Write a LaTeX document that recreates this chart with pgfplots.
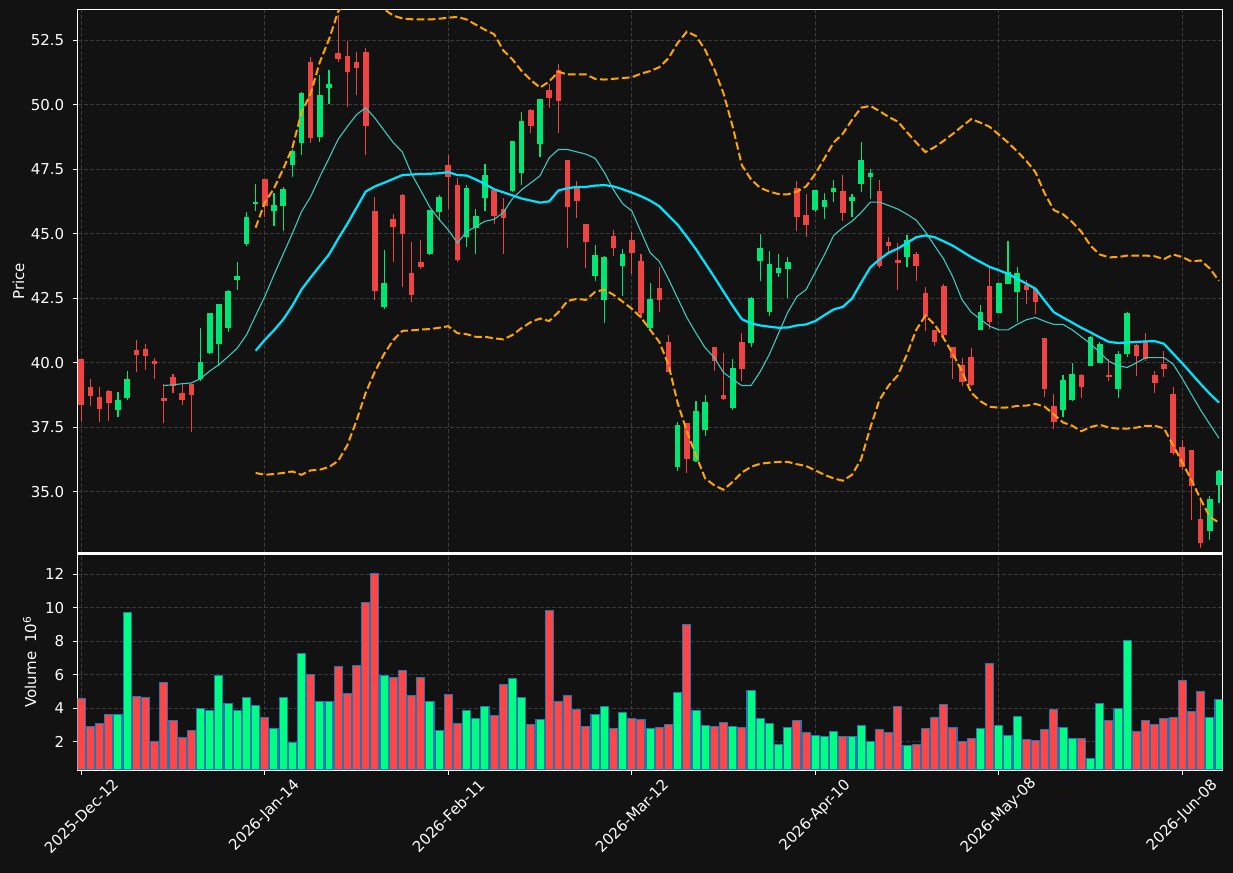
\documentclass[border=0pt]{standalone}
\usepackage{pgfplots}
\pgfplotsset{compat=1.18}
\usepackage{pgfplotstable}
\usepackage{fontspec}
\setmainfont{DejaVu Sans}
\definecolor{bg}{HTML}{121212}
\definecolor{gridc}{HTML}{3A3A3A}
\definecolor{cgreen}{HTML}{00E676}
\definecolor{cred}{HTML}{EF4444}
\definecolor{vgreen}{HTML}{00FF80}
\definecolor{vred}{HTML}{FF4545}
\definecolor{vedge}{HTML}{1F77B4}
\definecolor{smaA}{HTML}{00E5FF}
\definecolor{smaB}{HTML}{40C8C0}
\definecolor{band}{HTML}{FFA500}

\pgfplotstableread{
i o h l c v
4 38.16 38.87 37.88 38.54 3.63
5 38.63 39.69 38.54 39.35 9.73
13 39.35 41.33 39.27 40.01 3.99
14 40.38 41.91 40.35 41.91 3.87
15 40.73 42.29 39.85 42.26 5.96
16 41.34 42.81 41.17 42.77 4.29
17 43.19 43.88 42.83 43.35 3.87
18 44.61 45.82 44.50 45.64 4.65
19 46.16 46.94 45.88 46.22 4.17
21 45.88 46.56 45.31 46.11 2.80
22 46.07 46.79 45.12 46.72 4.65
23 47.67 48.28 47.21 48.20 1.96
24 48.53 50.49 48.05 50.45 7.28
26 48.74 51.13 48.55 50.37 4.41
27 50.66 51.36 50.02 50.81 4.41
33 42.14 44.37 42.09 43.08 5.96
38 44.20 45.91 44.16 45.91 4.41
39 45.83 46.48 45.50 46.41 2.68
42 44.87 46.90 44.49 46.77 3.87
43 45.21 45.94 44.19 45.67 3.39
44 46.39 47.71 45.88 47.27 4.11
47 46.66 48.58 46.63 48.58 5.78
48 47.36 49.71 46.90 49.37 4.65
50 48.49 50.22 47.96 50.22 3.33
56 43.36 44.57 43.15 44.16 3.63
57 42.43 44.12 41.52 44.09 4.11
59 43.76 44.42 42.58 44.20 3.75
62 41.34 43.10 41.30 42.45 2.80
65 35.96 37.68 35.81 37.57 4.95
67 36.19 38.52 36.16 38.11 3.87
68 37.38 38.74 37.17 38.47 2.98
71 38.22 40.12 38.18 39.78 2.92
73 40.76 42.56 40.62 42.49 5.07
74 43.95 45.00 43.15 44.43 3.39
75 41.98 44.32 41.79 43.82 3.10
76 43.48 44.19 43.33 43.66 1.84
77 43.63 44.09 42.50 43.89 2.86
80 45.90 46.68 45.82 46.68 2.38
81 46.05 46.56 45.55 46.30 2.32
82 46.63 47.08 46.21 46.77 2.62
84 46.28 46.52 45.65 46.40 2.32
85 46.93 48.55 46.63 47.85 2.98
86 47.20 47.50 46.34 47.35 2.02
90 44.11 44.93 43.71 44.75 1.78
98 41.27 42.25 41.25 41.95 2.80
100 41.93 43.08 41.91 43.08 2.98
101 43.04 44.73 43.04 43.50 2.38
102 42.74 43.69 41.59 43.47 3.51
107 38.16 39.51 37.88 39.32 2.86
108 38.56 39.99 38.50 39.55 2.20
110 39.88 41.03 39.85 41.00 1.00
111 39.99 40.80 39.99 40.73 4.29
113 38.97 40.46 38.63 40.35 3.99
114 40.33 41.98 40.22 41.91 8.06
123 33.48 34.83 33.14 34.70 3.45
124 35.24 35.85 34.56 35.78 4.53
}\greentab

\pgfplotstableread{
i o h l c v
0 40.15 40.15 37.68 38.36 4.59
1 39.06 39.38 38.33 38.70 2.92
2 38.66 39.04 37.68 38.20 3.10
3 38.89 38.95 37.75 38.43 3.63
6 40.47 40.87 39.62 40.30 4.71
7 40.51 40.73 39.72 40.26 4.65
8 40.05 40.18 39.35 39.95 2.02
9 38.62 39.17 37.64 38.52 5.55
10 39.43 39.54 38.83 39.09 3.27
11 38.81 39.21 38.36 38.55 2.26
12 39.16 39.16 37.32 38.75 2.68
20 47.10 47.10 45.64 46.06 3.45
25 51.65 51.85 48.53 48.72 6.02
28 52.01 53.48 51.65 51.77 6.50
29 51.89 52.46 49.92 51.28 4.89
30 51.65 52.03 50.36 51.43 6.56
31 52.04 52.19 48.03 49.18 10.33
32 45.87 46.40 42.41 42.78 12.06
34 45.56 45.75 43.88 45.25 5.84
35 46.49 46.53 42.94 44.98 6.26
36 43.47 44.69 42.36 42.62 4.77
37 43.89 44.77 43.61 43.70 5.84
40 47.66 48.05 45.95 47.20 4.83
41 46.89 47.14 43.90 43.96 3.10
45 46.68 46.68 45.38 45.68 3.57
46 45.95 46.39 44.19 45.61 5.43
49 49.79 49.82 48.91 49.18 3.04
51 50.56 50.79 49.88 50.26 9.85
52 51.36 51.58 48.91 50.15 4.41
53 47.85 47.85 44.45 46.05 4.77
54 46.77 47.04 45.61 46.28 3.93
55 45.37 45.37 43.65 44.66 2.92
58 44.91 45.14 44.15 44.45 2.80
60 44.75 45.07 43.42 44.26 3.39
61 43.93 44.19 41.71 41.91 3.33
63 42.90 43.69 41.98 42.43 2.86
64 40.80 41.07 39.63 39.63 3.04
66 37.64 37.67 35.72 36.26 9.01
69 40.60 40.60 39.67 40.08 2.92
70 38.74 40.39 38.56 38.59 3.16
72 40.79 41.14 39.27 39.76 2.86
78 46.75 47.02 45.10 45.65 3.27
79 45.72 46.52 44.85 45.34 2.56
83 46.64 47.29 45.48 45.80 2.32
87 46.64 47.06 43.66 43.76 2.74
88 44.66 44.85 44.19 44.53 2.56
89 43.97 44.62 42.81 43.86 4.11
91 44.20 44.28 43.17 43.76 1.84
92 42.70 42.94 41.21 41.75 2.80
93 41.25 41.25 40.66 40.80 3.45
94 42.97 43.06 40.87 41.07 4.23
95 40.60 40.60 39.38 40.16 2.86
96 39.90 40.18 39.11 39.24 2.02
97 40.22 40.56 39.11 39.13 2.20
99 42.97 43.65 41.30 41.59 6.68
103 43.00 43.20 42.29 42.82 2.14
104 42.86 42.94 41.88 42.36 2.08
105 40.95 40.95 38.67 38.97 2.74
106 38.32 38.77 37.41 37.68 3.93
109 39.51 39.55 38.63 39.06 2.20
112 39.51 40.12 39.27 39.44 3.27
115 40.70 40.73 39.48 40.26 2.62
116 40.80 41.14 40.08 40.12 3.27
117 39.51 39.69 38.83 39.21 3.04
118 39.96 40.46 39.44 39.76 3.39
119 38.77 39.06 36.42 36.50 3.45
120 36.71 37.00 35.82 35.96 5.67
121 36.60 36.60 33.89 35.21 3.81
122 33.95 34.77 32.80 33.00 5.01
}\redtab

\pgfplotstableread{
i s
9 39.11
10 39.14
11 39.18
12 39.21
13 39.38
14 39.67
15 39.92
16 40.23
17 40.56
18 41.07
19 41.82
20 42.56
21 43.40
22 44.20
23 45.00
24 45.85
25 46.43
26 47.20
27 47.92
28 48.66
29 49.15
30 49.61
31 49.88
32 49.48
33 49.00
34 48.53
35 48.16
36 47.31
37 46.67
38 46.02
39 45.55
40 45.14
41 44.64
42 45.07
43 45.27
44 45.48
45 45.55
46 45.82
47 46.36
48 46.70
49 46.97
50 47.24
51 47.94
52 48.26
53 48.26
54 48.17
55 48.08
56 47.92
57 47.38
58 46.70
59 46.16
60 45.88
61 45.07
62 44.26
63 43.92
64 43.24
65 42.49
66 41.75
67 41.14
68 40.57
69 40.19
70 39.61
71 39.35
72 39.11
73 39.11
74 39.65
75 40.32
76 41.14
77 41.95
78 42.56
79 42.83
80 43.51
81 44.18
82 44.93
83 45.23
84 45.48
85 45.82
86 46.22
87 46.22
88 46.09
89 45.95
90 45.75
91 45.52
92 45.07
93 44.53
94 44.01
95 43.31
96 42.43
97 41.95
98 41.68
99 41.41
100 41.27
101 41.27
102 41.48
103 41.66
104 41.75
105 41.60
106 41.48
107 41.48
108 41.27
109 41.00
110 40.73
111 40.39
112 40.05
113 39.88
114 39.81
115 39.99
116 40.19
117 40.19
118 40.19
119 39.94
120 39.38
121 38.77
122 38.16
123 37.61
124 37.07
}\smaten

\pgfplotstableread{
i m up lo
19 40.46 45.23 35.72
20 40.88 46.20 35.65
21 41.25 46.75 35.68
22 41.67 47.50 35.72
23 42.20 48.32 35.78
24 42.83 49.70 35.65
25 43.30 50.43 35.82
26 43.75 51.65 35.85
27 44.19 52.53 35.95
28 44.80 53.61 36.19
29 45.38 54.10 36.80
30 46.00 54.40 37.75
31 46.63 54.40 38.83
32 46.83 54.10 39.65
33 46.97 53.70 40.33
34 47.12 53.45 40.87
35 47.27 53.34 41.23
36 47.29 53.31 41.25
37 47.31 53.30 41.28
38 47.32 53.30 41.30
39 47.34 53.33 41.35
40 47.38 53.37 41.41
41 47.27 53.40 41.14
42 47.25 53.30 41.10
43 47.10 53.10 41.00
44 46.92 52.90 41.00
45 46.72 52.73 40.94
46 46.60 52.10 40.90
47 46.48 51.75 41.07
48 46.36 51.30 41.34
49 46.28 50.95 41.57
50 46.20 50.66 41.71
51 46.25 50.90 41.61
52 46.67 51.27 41.95
53 46.76 51.17 42.39
54 46.81 51.17 42.47
55 46.81 51.17 42.43
56 46.86 51.00 42.74
57 46.88 50.97 42.83
58 46.83 51.00 42.63
59 46.72 51.03 42.36
60 46.59 51.06 42.09
61 46.45 51.20 41.75
62 46.28 51.30 41.27
63 46.06 51.45 40.80
64 45.70 51.80 39.92
65 45.34 52.39 38.43
66 44.88 52.83 37.34
67 44.39 52.66 36.39
68 43.85 52.12 35.51
69 43.31 51.37 35.24
70 42.75 50.43 35.07
71 42.20 49.14 35.38
72 41.68 47.65 35.74
73 41.52 47.10 35.96
74 41.44 46.77 36.08
75 41.39 46.63 36.12
76 41.35 46.53 36.15
77 41.36 46.52 36.15
78 41.44 46.63 36.06
79 41.48 46.83 35.99
80 41.61 47.31 35.82
81 41.84 47.92 35.65
82 42.06 48.53 35.51
83 42.16 48.87 35.42
84 42.48 49.41 35.65
85 43.10 49.88 36.26
86 43.69 49.95 37.48
87 44.00 49.75 38.56
88 44.26 49.52 39.11
89 44.42 49.34 39.51
90 44.64 48.93 40.33
91 44.86 48.53 41.27
92 44.93 48.16 41.82
93 44.86 48.35 41.48
94 44.70 48.60 40.94
95 44.53 48.87 40.33
96 44.31 49.16 39.65
97 44.09 49.44 38.83
98 43.90 49.30 38.50
99 43.71 49.14 38.29
100 43.58 48.84 38.25
101 43.44 48.53 38.26
102 43.25 48.19 38.32
103 43.06 47.82 38.33
104 42.86 47.38 38.40
105 42.40 46.56 38.29
106 41.95 45.91 37.99
107 41.75 45.75 37.68
108 41.55 45.45 37.55
109 41.35 45.07 37.34
110 41.17 44.53 37.50
111 40.98 44.19 37.59
112 40.80 44.08 37.48
113 40.76 44.09 37.44
114 40.78 44.15 37.44
115 40.80 44.15 37.48
116 40.82 44.15 37.55
117 40.83 44.12 37.55
118 40.73 44.01 37.45
119 40.35 44.19 36.80
120 39.97 44.09 36.12
121 39.57 43.92 35.45
122 39.17 43.96 34.70
123 38.79 43.65 34.02
124 38.45 43.17 33.79
}\bandtab

\begin{document}
\begin{tikzpicture}[font=\fontsize{15bp}{18bp}\selectfont]
\path[use as bounding box, fill=bg] (0,0) rectangle (1233bp,873bp);
\pgfplotsset{
 every axis/.append style={
  scale only axis, width=1144.6bp,
  xmin=-0.39, xmax=124.36,
  axis background/.style={fill=bg},
  axis line style={white, line width=1.1bp},
  tick style={white, line width=1.1bp},
  major tick length=4.9bp, tick align=outside,
  xtick={0,20,40,60,80,100,120},
  xtick pos=bottom, ytick pos=left,
  xmajorgrids, ymajorgrids,
  major grid style={gridc, line width=0.8bp, dash pattern=on 4bp off 2bp},
  tick label style={white, font=\fontsize{15bp}{18bp}\selectfont},
  yticklabel shift=5bp,
  /pgf/number format/assume math mode=true,
 },
 candle/.style={only marks, mark=*, mark size=0pt, mark options={draw=none, fill=none},
  error bars/.cd, y dir=plus, y explicit, error mark=none},
}
\begin{axis}[at={(77.7bp,320.3bp)}, anchor=south west, height=543bp,
  ymin=32.63, ymax=53.68,
  ytick={35,37.5,40,42.5,45,47.5,50,52.5},
  yticklabel style={/pgf/number format/fixed, /pgf/number format/fixed zerofill, /pgf/number format/precision=1},
  xticklabels={}, xtick style={draw=none},
  ylabel={Price},
  every axis y label/.style={at={(axis description cs:-0.0469,0.5)}, rotate=90, anchor=base, text=white, font=\fontsize{15bp}{18bp}\selectfont},
]
% wicks
\addplot[candle, error bar style={cgreen, line width=1.1bp}]
  table[x=i, y=l, y error plus expr=\thisrow{h}-\thisrow{l}] {\greentab};
\addplot[candle, error bar style={cred, line width=1.1bp}]
  table[x=i, y=l, y error plus expr=\thisrow{h}-\thisrow{l}] {\redtab};
% bodies
\addplot[candle, error bar style={cgreen, line width=5.6bp}]
  table[x=i, y=o, y error plus expr=\thisrow{c}-\thisrow{o}] {\greentab};
\addplot[candle, error bar style={cred, line width=5.6bp}]
  table[x=i, y=c, y error plus expr=\thisrow{o}-\thisrow{c}] {\redtab};
% overlays
\addplot[band, line width=2bp, dash pattern=on 7.7bp off 3.3bp] table[x=i, y=up] {\bandtab};
\addplot[band, line width=2bp, dash pattern=on 7.7bp off 3.3bp] table[x=i, y=lo] {\bandtab};
\addplot[smaB, line width=1.1bp] table[x=i, y=s] {\smaten};
\addplot[smaA, line width=2.2bp] table[x=i, y=m] {\bandtab};
\end{axis}

\begin{axis}[at={(77.7bp,103bp)}, anchor=south west, height=216bp,
  ymin=0.31, ymax=13.21,
  ytick={2,4,6,8,10,12},
  xticklabels={2025-Dec-12,2026-Jan-14,2026-Feb-11,2026-Mar-12,2026-Apr-10,2026-May-08,2026-Jun-08},
  xticklabel style={yshift=-41bp, rotate=45, anchor=center},
  ylabel={Volume\hspace{0.6em}10\textsuperscript{6}},
  every axis y label/.style={at={(axis description cs:-0.0364,0.5)}, rotate=90, anchor=base, text=white, font=\fontsize{15bp}{18bp}\selectfont},
]
\addplot[ybar, bar width=0.88, bar shift=0pt, fill=vred, draw=vedge, line width=1.1bp]
  table[x=i, y=v] {\redtab};
\addplot[ybar, bar width=0.88, bar shift=0pt, fill=vgreen, draw=vedge, line width=1.1bp]
  table[x=i, y=v] {\greentab};
\end{axis}
\end{tikzpicture}
\end{document}
